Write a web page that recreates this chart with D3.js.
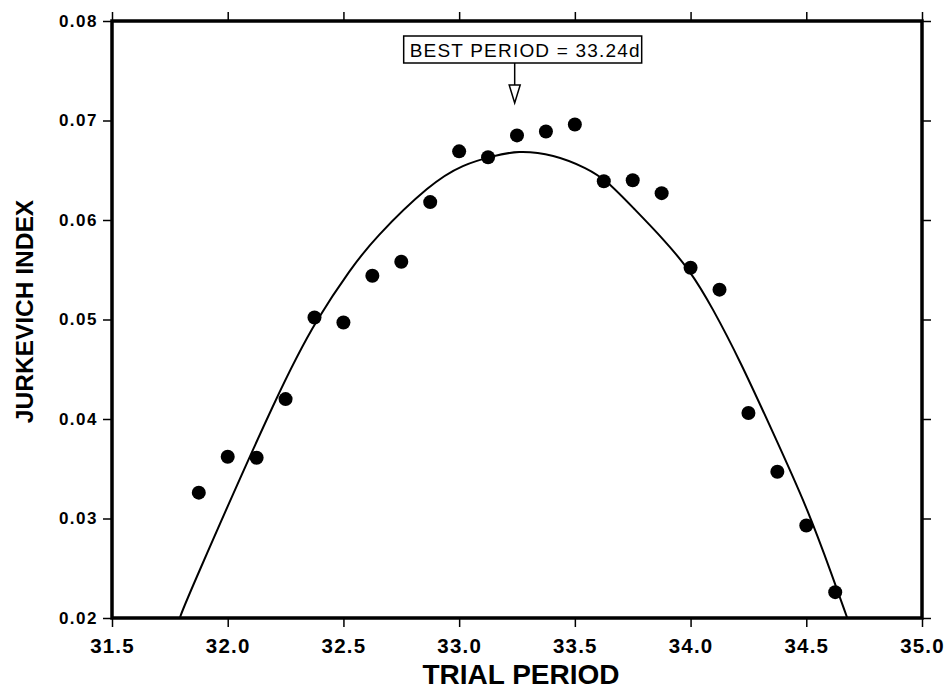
<!DOCTYPE html>
<html>
<head>
<meta charset="utf-8">
<script src="https://cdn.jsdelivr.net/npm/d3@7"></script>
<style>
  body { margin: 0; background: #fff; }
  svg { display: block; font-family: "Liberation Sans", Arial, sans-serif; }
  .axis path { display: none; }
  .axis line { stroke: #000; stroke-width: 1.5; }
</style>
</head>
<body>
<div class="JurkevichChart"></div>
<script>
// trial periods (days) and jurkevich index
var trialPeriods = [31.875, 32.0, 32.125, 32.25, 32.375, 32.5, 32.625, 32.75, 32.875, 33.0,
                    33.125, 33.25, 33.375, 33.5, 33.625, 33.75, 33.875, 34.0, 34.125, 34.25,
                    34.375, 34.5, 34.625];
var indexValues = [0.0326, 0.0362, 0.0361, 0.0420, 0.0502, 0.0497, 0.0544, 0.0558, 0.0618, 0.0669,
                   0.0663, 0.0685, 0.0689, 0.0696, 0.0639, 0.0640, 0.0627, 0.0552, 0.0530, 0.0406,
                   0.0347, 0.0293, 0.0226];

// fitted curve
var fitX = [31.793, 31.819, 32.238, 32.389, 32.532, 32.631, 32.877, 33.019, 33.144, 33.252,
            33.408, 33.554, 33.641, 33.753, 33.882, 33.999, 34.094, 34.215, 34.353, 34.504,
            34.616, 34.677];
var fitY = [0.0200, 0.0217, 0.0438, 0.0502, 0.0551, 0.0581, 0.0637, 0.0656, 0.0664, 0.0670,
            0.0666, 0.0652, 0.0639, 0.0612, 0.0581, 0.0549, 0.0512, 0.0458, 0.0388, 0.0311,
            0.0240, 0.0200];

var xTicks = [31.5, 32.0, 32.5, 33.0, 33.5, 34.0, 34.5, 35.0];
var yTicks = [0.02, 0.03, 0.04, 0.05, 0.06, 0.07, 0.08];
var bestPeriod = 33.24;

var margin = {top: 21, right: 23, bottom: 71, left: 112},
    width = 945 - margin.left - margin.right,
    height = 689 - margin.top - margin.bottom;

var svg = d3.select(".JurkevichChart").append("svg")
    .attr("width", 945)
    .attr("height", 689)
  .append("g")
    .attr("transform", "translate(" + margin.left + "," + margin.top + ")");

var x = d3.scaleLinear().domain([31.5, 35.0]).range([0, width]);
var y = d3.scaleLinear().domain([0.02, 0.08]).range([height, 0]);

svg.append("clipPath").attr("id", "plotClip")
  .append("rect").attr("width", width).attr("height", height);

// ticks on all four sides, labels only bottom and left
svg.append("g")
    .attr("class", "x axis")
    .attr("transform", "translate(0," + height + ")")
    .call(d3.axisBottom(x).tickValues(xTicks).tickSize(9).tickPadding(11).tickFormat(d3.format(".1f")))
    .selectAll("text")
    .style("font-size", "20.5px").style("font-weight", "bold").style("letter-spacing", "1.2px");

svg.append("g")
    .attr("class", "x axis")
    .call(d3.axisTop(x).tickValues(xTicks).tickSize(9).tickFormat(""));

svg.append("g")
    .attr("class", "y axis")
    .call(d3.axisLeft(y).tickValues(yTicks).tickSize(9).tickPadding(5).tickFormat(d3.format(".2f")))
    .selectAll("text")
    .style("font-size", "17px").style("font-weight", "bold").style("letter-spacing", "1.5px");

svg.append("g")
    .attr("class", "y axis")
    .attr("transform", "translate(" + width + ",0)")
    .call(d3.axisRight(y).tickValues(yTicks).tickSize(9).tickFormat(""));

// frame
svg.append("rect")
    .attr("width", width)
    .attr("height", height)
    .attr("fill", "none")
    .attr("stroke", "#000")
    .attr("stroke-width", 3.5);

var line = d3.line()
    .x(function(d){ return x(d[0]); })
    .y(function(d){ return y(d[1]); })
    .curve(d3.curveBasis);

svg.append("path")
    .datum(d3.zip(fitX, fitY))
    .attr("clip-path", "url(#plotClip)")
    .attr("d", line)
    .attr("fill", "none")
    .attr("stroke", "#000")
    .attr("stroke-width", 2);

svg.selectAll(".point")
    .data(d3.zip(trialPeriods, indexValues))
    .enter().append("circle")
    .attr("class", "point")
    .attr("r", 7)
    .attr("cx", function(d){ return x(d[0]); })
    .attr("cy", function(d){ return y(d[1]); })
    .attr("fill", "#000");

// best period label with arrow
var ax = x(bestPeriod);
var label = svg.append("g").attr("transform", "translate(" + ax + ",0)");

label.append("rect")
    .attr("x", -111).attr("y", 15)
    .attr("width", 238).attr("height", 27)
    .attr("fill", "#fff").attr("stroke", "#000").attr("stroke-width", 1.5);

label.append("text")
    .attr("x", -105).attr("y", 36)
    .style("font-size", "19px")
    .style("letter-spacing", "1.2px")
    .text("BEST PERIOD = 33.24d");

label.append("line")
    .attr("x1", 0).attr("x2", 0).attr("y1", 42).attr("y2", 65)
    .attr("stroke", "#000").attr("stroke-width", 1.5);

label.append("path")
    .attr("d", "M-5.5,64 L5.5,64 L0,82 Z")
    .attr("fill", "#fff").attr("stroke", "#000").attr("stroke-width", 1.5);

// axis titles
svg.append("text")
    .attr("text-anchor", "middle")
    .attr("transform", "translate(" + (width / 2 + 4) + "," + (height + 66) + ")")
    .style("font-size", "28px").style("font-weight", "bold")
    .text("TRIAL PERIOD");

svg.append("text")
    .attr("text-anchor", "middle")
    .attr("transform", "translate(" + (-79) + "," + (height / 2 - 8) + ")rotate(-90)")
    .style("font-size", "24.5px").style("font-weight", "bold")
    .text("JURKEVICH INDEX");
</script>
</body>
</html>
